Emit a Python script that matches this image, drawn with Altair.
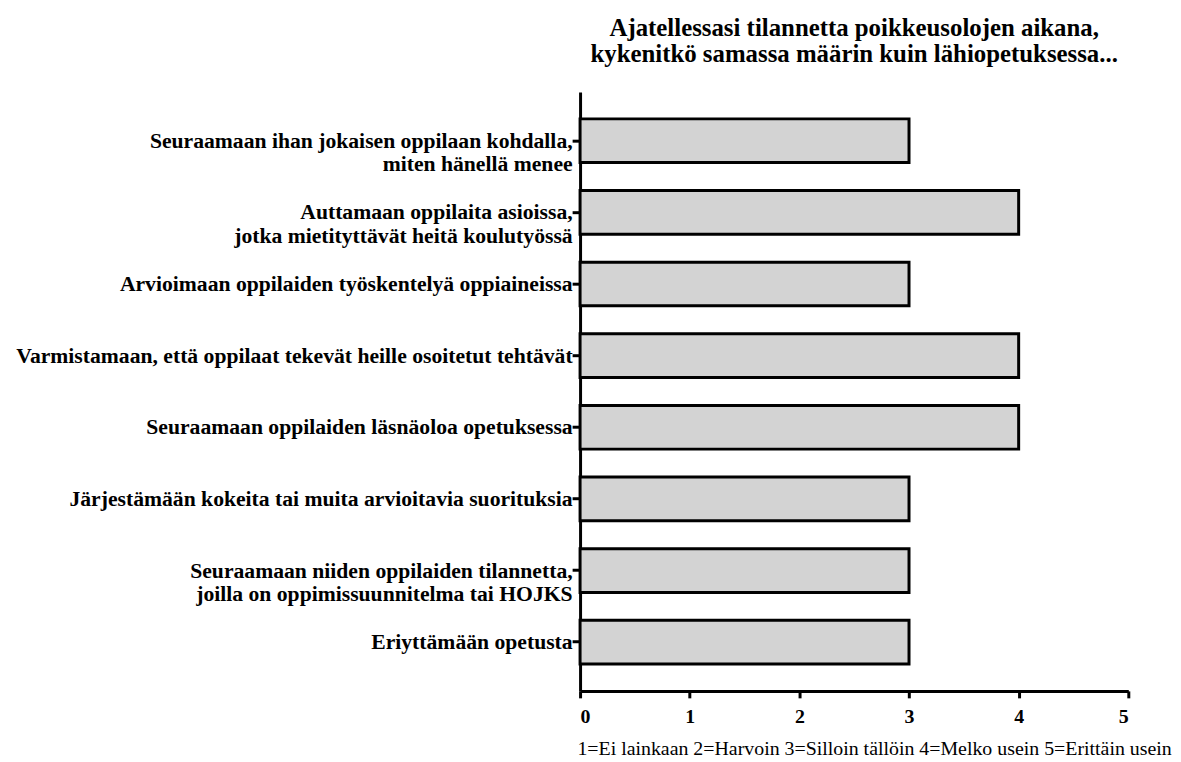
import altair as alt
import pandas as pd

items = [
    "Seuraamaan ihan jokaisen oppilaan kohdalla,|miten hänellä menee",
    "Auttamaan oppilaita asioissa,|jotka mietityttävät heitä koulutyössä",
    "Arvioimaan oppilaiden työskentelyä oppiaineissa",
    "Varmistamaan, että oppilaat tekevät heille osoitetut tehtävät",
    "Seuraamaan oppilaiden läsnäoloa opetuksessa",
    "Järjestämään kokeita tai muita arvioitavia suorituksia",
    "Seuraamaan niiden oppilaiden tilannetta,|joilla on oppimissuunnitelma tai HOJKS",
    "Eriyttämään opetusta",
]
values = [3, 4, 3, 4, 4, 3, 3, 3]
x_ticks = [0, 1, 2, 3, 4, 5]

df = pd.DataFrame({"item": items, "value": values})

FONT = "Liberation Serif"

chart = (
    alt.Chart(df)
    .mark_bar(fill="#d3d3d3", stroke="black", strokeWidth=3)
    .encode(
        x=alt.X(
            "value:Q",
            scale=alt.Scale(domain=[0, 5], nice=False),
            axis=alt.Axis(
                values=x_ticks,
                format="d",
                title="1=Ei lainkaan 2=Harvoin 3=Silloin tällöin 4=Melko usein 5=Erittäin usein",
                titleFont=FONT,
                titleFontWeight="normal",
                titleFontSize=20,
                titleColor="black",
                titleX=296,
                titlePadding=12,
                labelFont=FONT,
                labelFontWeight="bold",
                labelFontSize=20,
                labelColor="black",
                labelPadding=9,
                domainColor="black",
                domainWidth=3,
                tickColor="black",
                tickWidth=3,
                tickSize=7,
                grid=False,
            ),
        ),
        y=alt.Y(
            "item:N",
            sort=items,
            scale=alt.Scale(paddingInner=0.39, paddingOuter=0.375),
            axis=alt.Axis(
                title=None,
                labelExpr="split(datum.label, '|')",
                labelFont=FONT,
                labelFontWeight="bold",
                labelFontSize=21.8,
                labelColor="black",
                labelPadding=0,
                labelLimit=0,
                labelLineHeight=23.5,
                domainColor="black",
                domainWidth=3,
                tickColor="black",
                tickWidth=3,
                tickSize=8,
                grid=False,
            ),
        ),
    )
    .properties(
        width=552,
        height=603,
        autosize=alt.AutoSizeParams(type="none"),
        padding={"left": 576, "top": 82, "right": 45, "bottom": 69},
        title=alt.TitleParams(
            text=[
                "Ajatellessasi tilannetta poikkeusolojen aikana,",
                "kykenitkö samassa määrin kuin lähiopetuksessa...",
            ],
            font=FONT,
            fontSize=25,
            fontWeight="bold",
            color="black",
            anchor="middle",
            frame="group",
            lineHeight=26.5,
            offset=25,
        ),
    )
    .configure_view(stroke=None)
)

chart.save("out.html", embed_options={"renderer": "svg", "actions": False})
